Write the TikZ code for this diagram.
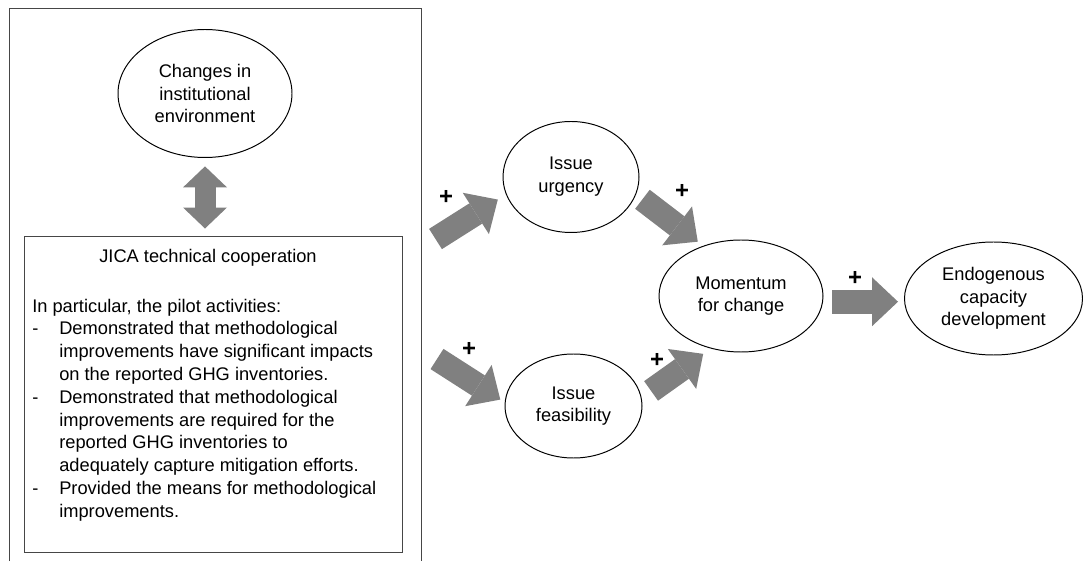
\documentclass[tikz,border=0pt]{standalone}
\usepackage{fontspec}
\setmainfont{Liberation Sans}
\usetikzlibrary{shapes.geometric,arrows.meta}
\definecolor{arrowgray}{RGB}{128,128,128}
\definecolor{framegray}{RGB}{70,70,70}

\begin{document}
\begin{tikzpicture}[line join=miter,
  every node/.style={font=\fontsize{13}{16.2}\selectfont,inner sep=0pt},
  factor/.style={draw,ellipse,line width=0.7pt,align=center},
  bigarrow/.style={arrowgray,line width=0.6cm,-{Triangle[length=0.65cm,width=1.225cm,line width=0pt]}},
  dblarrow/.style={arrowgray,line width=0.525cm,{Triangle[length=0.525cm,width=1.1cm,line width=0pt]}-{Triangle[length=0.525cm,width=1.1cm,line width=0pt]}},
  plus/.style={font=\bfseries\fontsize{17}{20}\selectfont}]
  \useasboundingbox (0,0) rectangle (27.075,14.025);
  % outer frame, open at the bottom
  \draw[framegray,line width=0.7pt] (0.225,0) -- (0.225,13.825) -- (10.525,13.825) -- (10.525,0);
  \node[factor,minimum width=4.35cm,minimum height=3.2cm] (changes) at (5.125,11.6875) {Changes in\\institutional\\environment};
  \node[draw=framegray,line width=0.7pt,minimum width=9.45cm,minimum height=7.9cm] (jica) at (5.325,4.175) {};
  \node[anchor=base] (jicatitle) at (5.2,7.45) {JICA technical cooperation};
  \node[anchor=north west] (jicatext) at (0.8,6.625) {%
    \begin{tabular}{@{}p{0.675cm}@{}l@{}}
      \multicolumn{2}{@{}l@{}}{In particular, the pilot activities:}\\
      - & Demonstrated that methodological\\
        & improvements have significant impacts\\
        & on the reported GHG inventories.\\
      - & Demonstrated that methodological\\
        & improvements are required for the\\
        & reported GHG inventories to\\
        & adequately capture mitigation efforts.\\
      - & Provided the means for methodological\\
        & improvements.
    \end{tabular}};
  \draw[dblarrow,shorten <=0.21cm,shorten >=0.175cm] (changes.south) -- (changes.south |- jica.north);

  \node[factor,minimum width=3.4cm,minimum height=2.775cm] (urgency) at (14.275,9.6) {Issue\\urgency};
  \node[factor,minimum width=3.425cm,minimum height=2.6cm] (feasibility) at (14.3375,3.875) {Issue\\feasibility};
  \node[factor,minimum width=4.1cm,minimum height=2.8cm] (momentum) at (18.525,6.625) {Momentum\\for change};
  \node[factor,minimum width=4.45cm,minimum height=2.825cm] (endog) at (24.8375,6.5625) {Endogenous\\capacity\\development};

  \coordinate (urgin) at (10.8875,8.05);
  \coordinate (feasin) at (10.925,5.05);
  \draw[bigarrow,shorten >=0.24cm] (urgin) -- (urgency.195);
  \draw[bigarrow,shorten <=0.2cm,shorten >=0.17cm] (urgency.-15) -- (momentum.127);
  \draw[bigarrow,shorten >=0.13cm] (feasin) -- (feasibility.177);
  \draw[bigarrow,shorten <=0.29cm,shorten >=0.23cm] (feasibility.7) -- (momentum.240);
  \draw[bigarrow,shorten <=0.225cm,shorten >=0.15cm] (momentum.-4) -- (momentum.-4 -| endog.west);

  \node[plus] (plusa) at (11.15,9.1) {+};
  \node[plus] (plusb) at (17.05,9.25) {+};
  \node[plus] (plusc) at (11.725,5.3) {+};
  \node[plus] (plusd) at (16.425,5.025) {+};
  \node[plus] (pluse) at (21.375,7.075) {+};
\end{tikzpicture}
\end{document}
